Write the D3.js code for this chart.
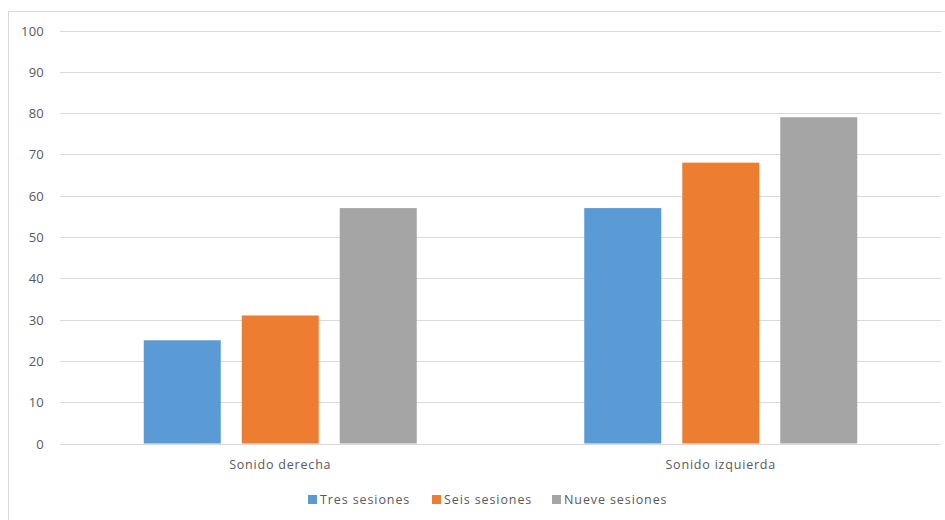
<!DOCTYPE html>
<html>
<head>
<meta charset="utf-8">
<script src="https://cdn.jsdelivr.net/npm/d3@7"></script>
<style>
  html, body { margin: 0; padding: 0; background: #fff; }
  svg text { font-family: "Open Sans", "Liberation Sans", sans-serif; fill: #595959; }
</style>
</head>
<body>
<svg id="chart" width="945" height="520"></svg>
<script>
// Categories, series and their values
const categories = ["Sonido derecha", "Sonido izquierda"];
const seriesNames = ["Tres sesiones", "Seis sesiones", "Nueve sesiones"];
const seriesColors = ["#5b9bd5", "#ed7d31", "#a5a5a5"];
const tresSesiones = [25, 57];
const seisSesiones = [31, 68];
const nueveSesiones = [57, 79];
const yTicks = [0, 10, 20, 30, 40, 50, 60, 70, 80, 90, 100];

const seriesValues = [tresSesiones, seisSesiones, nueveSesiones];

const svg = d3.select("#chart");
const W = 945, H = 520;

// Outer chart frame
svg.append("rect")
  .attr("x", 8.5).attr("y", 11.5)
  .attr("width", W + 10).attr("height", H + 10)
  .attr("fill", "#fff").attr("stroke", "#d9d9d9").attr("stroke-width", 1);

const plot = { left: 60, right: 941, top: 30.5, bottom: 443.5 };

const x0 = d3.scaleBand()
  .domain(categories)
  .range([plot.left, plot.right])
  .paddingInner(0).paddingOuter(0);

const y = d3.scaleLinear()
  .domain([0, 100])
  .range([plot.bottom, plot.top]);

// Gridlines
const grid = svg.append("g");
grid.selectAll("line").data(yTicks).join("line")
  .attr("x1", plot.left).attr("x2", plot.right)
  .attr("y1", d => Math.round(y(d)) + 0.5)
  .attr("y2", d => Math.round(y(d)) + 0.5)
  .attr("stroke", "#d9d9d9").attr("stroke-width", 1);

// Y axis labels
const yAxis = svg.append("g")
  .attr("transform", `translate(${plot.left - 16},0)`)
  .call(d3.axisLeft(y).tickValues(yTicks).tickSize(0).tickPadding(0));
yAxis.select(".domain").remove();
yAxis.selectAll("text")
  .attr("font-size", "13px")
  .attr("letter-spacing", "0.2px")
  .attr("dy", "0.35em");

// Bars: width and spacing within each category band
const barW = 77, barStep = 98;
const groups = svg.append("g");
categories.forEach((cat, ci) => {
  const center = x0(cat) + x0.bandwidth() / 2;
  const start = center - (barStep * (seriesNames.length - 1) + barW) / 2;
  seriesNames.forEach((s, si) => {
    const v = seriesValues[si][ci];
    groups.append("rect")
      .attr("x", start + si * barStep)
      .attr("y", y(v))
      .attr("width", barW)
      .attr("height", y(0) - y(v))
      .attr("fill", seriesColors[si]);
  });
});

// Category axis labels
const xAxis = svg.append("g")
  .attr("transform", `translate(0,${plot.bottom})`)
  .call(d3.axisBottom(x0).tickSize(0).tickPadding(0));
xAxis.select(".domain").remove();
xAxis.selectAll("text")
  .attr("font-size", "12.5px")
  .attr("letter-spacing", "0.8px")
  .attr("y", 21)
  .attr("dy", "0.35em");

// Legend
const legendItems = [
  { name: seriesNames[0], color: seriesColors[0], x: 308 },
  { name: seriesNames[1], color: seriesColors[1], x: 432 },
  { name: seriesNames[2], color: seriesColors[2], x: 552 }
];
const legend = svg.append("g");
legendItems.forEach(it => {
  legend.append("rect")
    .attr("x", it.x).attr("y", 495)
    .attr("width", 9).attr("height", 9)
    .attr("fill", it.color);
  legend.append("text")
    .attr("x", it.x + 12).attr("y", 500)
    .attr("dy", "0.35em")
    .attr("font-size", "12.5px")
    .attr("letter-spacing", "0.9px")
    .text(it.name);
});
</script>
</body>
</html>
